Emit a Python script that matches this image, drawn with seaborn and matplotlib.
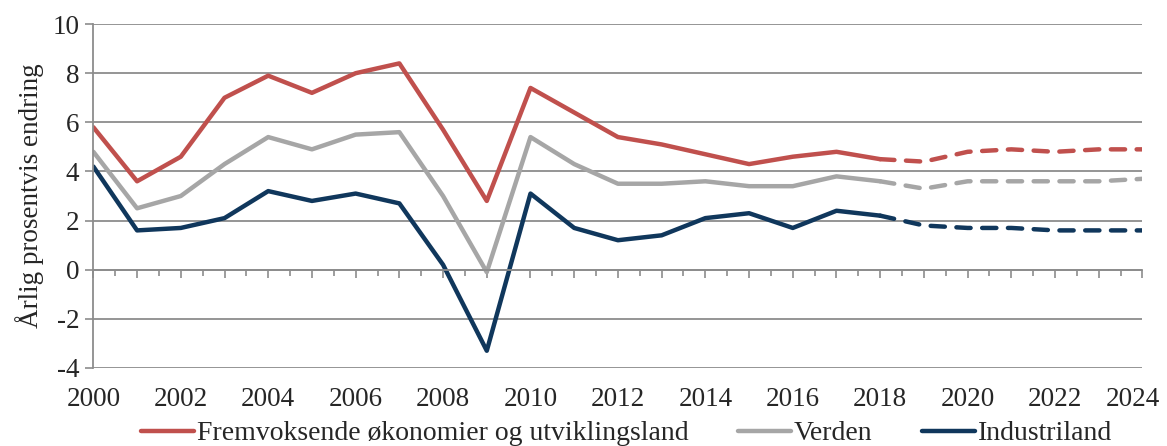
import pandas as pd
import matplotlib.pyplot as plt
import seaborn as sns
from matplotlib.ticker import MultipleLocator
from matplotlib.transforms import ScaledTranslation

# ---------------- DATA ----------------
years = list(range(2000, 2025))
fremvoksende = [5.8, 3.6, 4.6, 7.0, 7.9, 7.2, 8.0, 8.4, 5.7, 2.8, 7.4, 6.4, 5.4,
                5.1, 4.7, 4.3, 4.6, 4.8, 4.5, 4.4, 4.8, 4.9, 4.8, 4.9, 4.9]
verden = [4.8, 2.5, 3.0, 4.3, 5.4, 4.9, 5.5, 5.6, 3.0, -0.1, 5.4, 4.3, 3.5,
          3.5, 3.6, 3.4, 3.4, 3.8, 3.6, 3.3, 3.6, 3.6, 3.6, 3.6, 3.7]
industriland = [4.2, 1.6, 1.7, 2.1, 3.2, 2.8, 3.1, 2.7, 0.2, -3.3, 3.1, 1.7, 1.2,
                1.4, 2.1, 2.3, 1.7, 2.4, 2.2, 1.8, 1.7, 1.7, 1.6, 1.6, 1.6]
series_names = ["Fremvoksende økonomier og utviklingsland", "Verden", "Industriland"]
colors = ["#C0504D", "#A6A6A6", "#10375C"]
last_actual = 2018  # prognose fra og med 2018 (stiplet)

# ---------------- STYLE ----------------
sns.set_style("white")
plt.rcParams["font.family"] = ["Liberation Serif", "DejaVu Serif"]
plt.rcParams["axes.unicode_minus"] = False
grid_col = "#8C8C8C"
fs = 19.5

df = pd.DataFrame({"year": years,
                   series_names[0]: fremvoksende,
                   series_names[1]: verden,
                   series_names[2]: industriland})
long_df = df.melt(id_vars="year", var_name="serie", value_name="value")

fig, ax = plt.subplots(figsize=(11.67, 4.46), dpi=100)
fig.subplots_adjust(left=0.08, right=0.979, top=0.946, bottom=0.175)

for name, color in zip(series_names, colors):
    d = long_df[long_df["serie"] == name]
    sns.lineplot(data=d[d["year"] <= last_actual], x="year", y="value", color=color,
                 lw=3.2, ax=ax, label=name, solid_capstyle="round", solid_joinstyle="round")
    sns.lineplot(data=d[d["year"] >= last_actual], x="year", y="value", color=color,
                 lw=3.2, ax=ax, linestyle=(0, (3.2, 2.6)), dash_capstyle="round",
                 dash_joinstyle="round", legend=False)

handles, labels = ax.get_legend_handles_labels()
if ax.get_legend():
    ax.get_legend().remove()

# ---------------- AXES ----------------
ax.set_xlim(2000, 2024)
ax.set_ylim(-4, 10)
ax.yaxis.set_major_locator(MultipleLocator(2))
ax.yaxis.grid(True, color=grid_col, lw=1.3)
ax.xaxis.grid(False)
ax.set_xlabel("")
ax.set_ylabel("Årlig prosentvis endring", fontsize=fs, labelpad=6)

for s in ["top", "right"]:
    ax.spines[s].set_visible(False)
ax.spines["left"].set_color(grid_col)
ax.spines["left"].set_linewidth(1.3)
ax.spines["bottom"].set_position(("data", 0))
ax.spines["bottom"].set_color(grid_col)
ax.spines["bottom"].set_linewidth(1.3)

ax.xaxis.set_major_locator(MultipleLocator(1))
ax.xaxis.set_minor_locator(MultipleLocator(0.5))
ax.tick_params(axis="x", which="major", bottom=True, length=6, width=1.2,
               color=grid_col, labelbottom=False, direction="out")
ax.tick_params(axis="x", which="minor", bottom=True, length=4, width=1.2,
               color=grid_col, direction="out")
ax.tick_params(axis="y", left=True, length=6, width=1.2, color=grid_col,
               labelsize=fs, pad=4)

# årstall under plottet
sec = ax.secondary_xaxis(0)
sec.set_xticks(list(range(2000, 2025, 2)))
sec.tick_params(length=0, labelsize=fs, pad=14)
sec.spines["bottom"].set_visible(False)
# siste årstall flyttes litt inn slik at det ikke kuttes
last_lab = sec.get_xticklabels()[-1]
last_lab.set_transform(last_lab.get_transform() + ScaledTranslation(-10 / 100, 0, fig.dpi_scale_trans))

fig.legend(handles, labels, loc="lower center", bbox_to_anchor=(0.537, -0.013),
           ncol=3, frameon=False, fontsize=20, handlelength=1.9, borderpad=0.2,
           borderaxespad=0, handletextpad=0.1, columnspacing=1.8)

fig.savefig("out.png", dpi=100)
